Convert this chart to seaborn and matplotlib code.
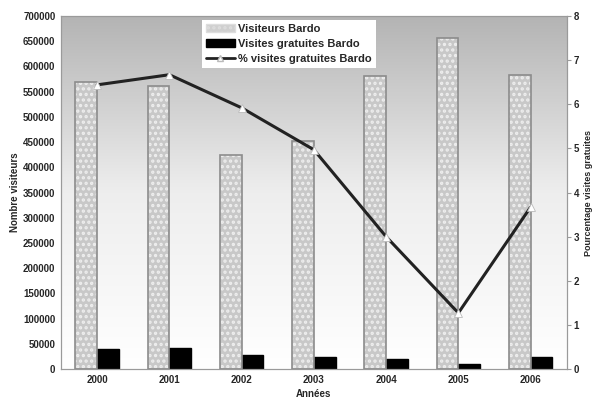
import numpy as np
import pandas as pd
import matplotlib
matplotlib.use('Agg')
import matplotlib.pyplot as plt
import seaborn as sns
from matplotlib.patches import Patch
from matplotlib.lines import Line2D

# data
annees = ['2000', '2001', '2002', '2003', '2004', '2005', '2006']
visiteurs = [569000, 561000, 424000, 452000, 581000, 656000, 583000]
gratuites = [40000, 41000, 28000, 24500, 19000, 10000, 23000]
pct_gratuites = [6.44, 6.67, 5.92, 4.97, 3.0, 1.27, 3.67]

sns.set_style('white')
plt.rcParams['font.family'] = ['Liberation Sans', 'DejaVu Sans']
plt.rcParams['font.weight'] = 'bold'
plt.rcParams['hatch.linewidth'] = 1.6

df = pd.DataFrame({'Années': annees * 2,
                   'valeur': visiteurs + gratuites,
                   'serie': ['Visiteurs Bardo'] * 7 + ['Visites gratuites Bardo'] * 7})

fig = plt.figure(figsize=(5.95, 4.01), dpi=100)
ax = fig.add_axes([0.1025, 0.0798, 0.85, 0.8802])

# gradient background
grad = np.linspace(1, 0, 256).reshape(-1, 1)
ax.imshow(grad, extent=[-0.5, 6.5, 0, 700000], aspect='auto',
          cmap=matplotlib.colors.LinearSegmentedColormap.from_list('g', ['#ffffff', '#eeeeee', '#b4b4b4']),
          zorder=0, vmin=0, vmax=1)

sns.barplot(data=df, x='Années', y='valeur', hue='serie', width=0.6,
            palette=['#c8c8c8', '#000000'], saturation=1, ax=ax, zorder=2,
            legend=False)
n = len(annees)
for i, p in enumerate(ax.patches):
    if i < n:
        p.set_hatch('...')
        p.set_edgecolor('#eeeeee')
        p.set_linewidth(0)
        ax.bar(p.get_x() + p.get_width() / 2, p.get_height(), width=p.get_width(),
               fill=False, edgecolor='#8c8c8c', linewidth=1.2, zorder=3)
    else:
        p.set_edgecolor('#000000')

ax.set_xlim(-0.5, 6.5)
ax.set_ylim(0, 700000)
ax.set_yticks(range(0, 700001, 50000))
ax.set_xlabel('Années', fontsize=7, fontweight='bold', labelpad=3)
ax.set_ylabel('Nombre visiteurs', fontsize=7, fontweight='bold', labelpad=2)
ax.tick_params(axis='both', labelsize=7, length=0, pad=4)
ax.set_xticks(np.arange(-0.5, 7, 1), minor=True)
ax.tick_params(axis='x', which='minor', length=3, color='#bbbbbb', direction='out')
for s in ax.spines.values():
    s.set_color('#9a9a9a')

ax2 = ax.twinx()
ax2.plot(range(n), pct_gratuites, color='#222222', linewidth=2.2, marker='^',
         markersize=6, markerfacecolor='white', markeredgecolor='#bbbbbb',
         markeredgewidth=0.6, zorder=5)
ax2.set_ylim(0, 8)
ax2.set_yticks(range(0, 9))
ax2.set_ylabel('Pourcentage visites gratuites', fontsize=6.5, fontweight='bold')
ax2.yaxis.set_label_coords(1.034, 0.5)
ax2.tick_params(axis='y', labelsize=7, length=3, color='#9a9a9a', direction='out', pad=2)
for s in ax2.spines.values():
    s.set_color('#9a9a9a')

handles = [Patch(facecolor='#cfcfcf', edgecolor='#dddddd', hatch='...', label='Visiteurs Bardo'),
           Patch(facecolor='black', edgecolor='black', label='Visites gratuites Bardo'),
           Line2D([0], [0], color='#222222', linewidth=2, marker='^', markersize=5,
                  markerfacecolor='white', markeredgecolor='#bbbbbb', label='% visites gratuites Bardo')]
leg = ax2.legend(handles=handles, loc='upper left', bbox_to_anchor=(0.278, 0.99),
                 frameon=True, fancybox=False, framealpha=1, edgecolor='white',
                 prop={'size': 8, 'weight': 'bold'}, handlelength=2.6, handleheight=0.7,
                 labelspacing=0.45, borderpad=0.4, handletextpad=0.3, borderaxespad=0)
leg.get_frame().set_linewidth(0)

fig.savefig('out.png', dpi=100)
